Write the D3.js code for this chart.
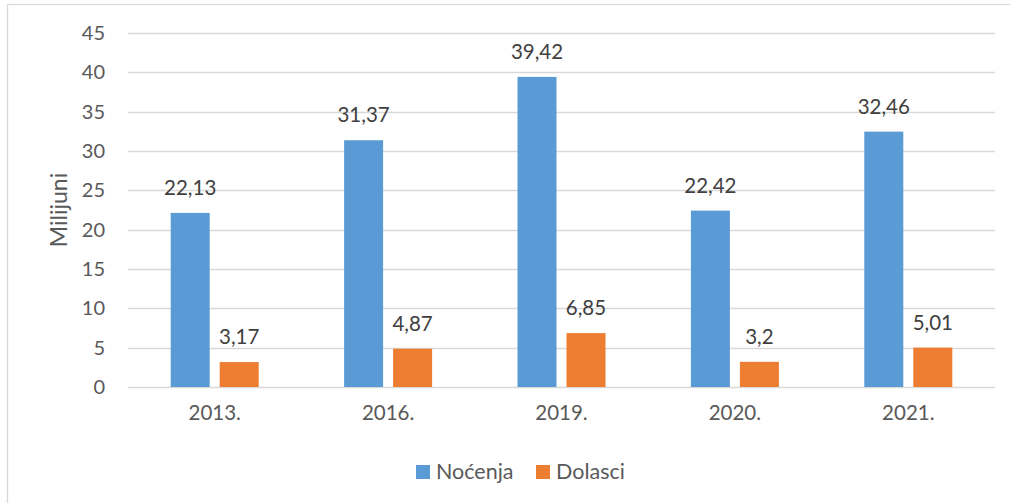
<!DOCTYPE html>
<html><head><meta charset="utf-8">
<script src="https://cdn.jsdelivr.net/npm/d3@7"></script>
<style>body{margin:0;background:#fff;}svg{display:block;font-family:Lato,"Open Sans",sans-serif;}</style>
</head><body><svg id="c" width="1010" height="503"></svg>
<script>
const categories = ["2013.", "2016.", "2019.", "2020.", "2021."];
const nocenja = [22.13, 31.37, 39.42, 22.42, 32.46];
const dolasci = [3.17, 4.87, 6.85, 3.2, 5.01];
const seriesNames = ["Noćenja", "Dolasci"];
const yTicks = [0, 5, 10, 15, 20, 25, 30, 35, 40, 45];
const colors = ["#5B9BD5", "#ED7D31"];

const svg = d3.select("#c");
svg.append("rect").attr("x", 7.5).attr("y", 4.5).attr("width", 1020).attr("height", 520)
  .attr("fill", "#fff").attr("stroke", "#D9D9D9").attr("stroke-width", 1.3);

const x0 = d3.scaleBand().domain(categories).range([128, 995]);
const y = d3.scaleLinear().domain([0, 45]).range([387, 33]);
const barW = 39, gap = 10;

const gGrid = svg.append("g");
gGrid.selectAll("line").data(yTicks).join("line")
  .attr("x1", 128).attr("x2", 995)
  .attr("y1", d => Math.round(y(d)) + 0.5).attr("y2", d => Math.round(y(d)) + 0.5)
  .attr("stroke", "#D9D9D9").attr("stroke-width", 1.3);

const yAxis = d3.axisLeft(y).tickValues(yTicks).tickSize(0).tickPadding(0);
const ga = svg.append("g").attr("transform", "translate(105,0)").call(yAxis);
ga.select(".domain").remove();
ga.selectAll("text").attr("font-size", 20).attr("fill", "#595959").attr("font-family", "Lato");

const xAxis = d3.axisBottom(x0).tickSize(0).tickPadding(0);
const gx = svg.append("g").attr("transform", "translate(0,405)").call(xAxis);
gx.select(".domain").remove();
gx.selectAll("text").attr("font-size", 20.5).attr("fill", "#595959").attr("font-family", "Lato").attr("dy", "0.75em");

const data = categories.map((c, i) => [
  {c, s: 0, v: nocenja[i]}, {c, s: 1, v: dolasci[i]}
]).flat();
const bx = d => x0(d.c) + x0.bandwidth() / 2 + (d.s === 0 ? -(barW + gap / 2) : gap / 2);

svg.append("g").selectAll("rect").data(data).join("rect")
  .attr("x", bx).attr("width", barW)
  .attr("y", d => y(d.v)).attr("height", d => y(0) - y(d.v))
  .attr("fill", d => colors[d.s]);

const fmt = v => String(v).replace(".", ",");
svg.append("g").selectAll("text").data(data).join("text")
  .attr("x", d => bx(d) + barW / 2).attr("y", d => y(d.v) - 18)
  .attr("text-anchor", "middle").attr("font-size", 20.5).attr("fill", "#404040")
  .text(d => fmt(d.v));

svg.append("text").attr("transform", "translate(67,210) rotate(-90)")
  .attr("text-anchor", "middle").attr("font-size", 23).attr("fill", "#595959")
  .text("Milijuni");

const leg = svg.append("g");
const legX = [416, 536];
seriesNames.forEach((n, i) => {
  leg.append("rect").attr("x", legX[i]).attr("y", 465).attr("width", 14).attr("height", 14).attr("fill", colors[i]);
  leg.append("text").attr("x", legX[i] + 20).attr("y", 478.5).attr("font-size", 21.5).attr("fill", "#595959").text(n);
});
</script></body></html>
